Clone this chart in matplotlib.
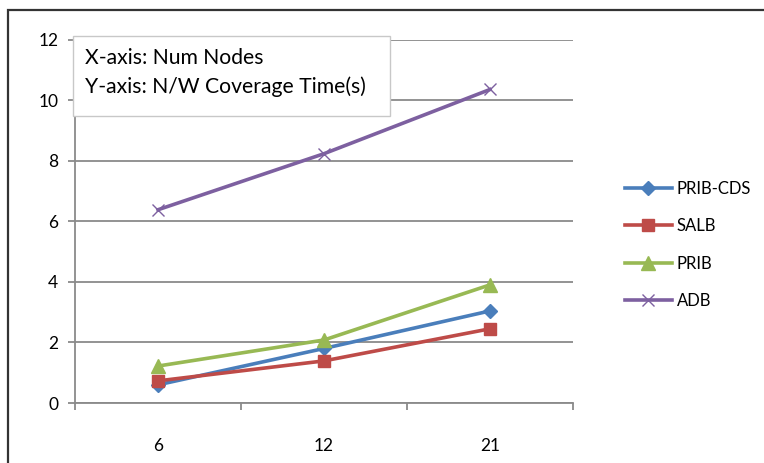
import matplotlib
matplotlib.use("Agg")
import matplotlib.pyplot as plt
from matplotlib.patches import Rectangle

categories = ["6", "12", "21"]
prib_cds = [0.6, 1.8, 3.04]
salb = [0.73, 1.39, 2.45]
prib = [1.22, 2.08, 3.9]
adb = [6.38, 8.23, 10.35]
series_names = ["PRIB-CDS", "SALB", "PRIB", "ADB"]
yticks = [0, 2, 4, 6, 8, 10, 12]

plt.rcParams['font.family'] = ['Lato', 'DejaVu Sans']

W, H = 764, 463
fig = plt.figure(figsize=(W/100, H/100), dpi=100)
fig.patch.set_facecolor('white')

# outer chart border (left & top visible)
fig.add_artist(Rectangle((8/W, -0.1), 1.2, 1.1 - 10/H, transform=fig.transFigure,
                         fill=False, edgecolor='#333333', linewidth=1.6))

ax = fig.add_axes([75/W, 1-403/H, (573-75)/W, (403-39.5)/H])
x = list(range(len(categories)))

ax.plot(x, prib_cds, color='#4a7ebb', lw=2.6, marker='D', ms=7, label=series_names[0], zorder=3)
ax.plot(x, salb, color='#be4b48', lw=2.6, marker='s', ms=9, label=series_names[1], zorder=3)
ax.plot(x, prib, color='#98b954', lw=2.6, marker='^', ms=10, label=series_names[2], zorder=3)
ax.plot(x, adb, color='#7d60a0', lw=2.6, marker='x', ms=9, mew=1.0, label=series_names[3], zorder=3)

ax.set_xlim(-0.5, len(categories) - 0.5)
ax.set_ylim(0, 12)
ax.set_yticks(yticks)
ax.set_yticklabels([str(v) for v in yticks])
ax.yaxis.grid(True, color='#8a8a8a', lw=1.3)
ax.set_axisbelow(True)
for s in ['top', 'right']:
    ax.spines[s].set_visible(False)
for s in ['left', 'bottom']:
    ax.spines[s].set_color('#8a8a8a')
    ax.spines[s].set_linewidth(1.3)
ax.tick_params(axis='y', length=5, color='#8a8a8a', width=1.3, pad=7, labelsize=12.5)

ax.set_xticks([i - 0.5 for i in range(len(categories) + 1)], minor=False)
ax.set_xticklabels([])
ax.tick_params(axis='x', which='major', length=5, color='#8a8a8a', width=1.3)
ax.set_xticks(x, minor=True)
ax.set_xticklabels(categories, minor=True)
ax.tick_params(axis='x', which='minor', length=0, pad=25, labelsize=12.5)

# annotation box
fig.add_artist(Rectangle((73/W, 1-116/H), (390-73)/W, (116-36)/H, transform=fig.transFigure,
                         facecolor='white', edgecolor='#c8c8c8', linewidth=1.0, zorder=5))
fig.text(85/W, 1-58/H, "X-axis: Num Nodes", fontsize=15.2, va='center', ha='left', zorder=6)
fig.text(85/W, 1-87/H, "Y-axis: N/W Coverage Time(s)", fontsize=15.2, va='center', ha='left', zorder=6)

leg = fig.legend(loc='upper left', bbox_to_anchor=(610/W, 1-166/H), frameon=False,
                 fontsize=12, handlelength=2.8, labelspacing=1.28, handletextpad=0.3)

fig.savefig("out.png", dpi=100, facecolor='white')
